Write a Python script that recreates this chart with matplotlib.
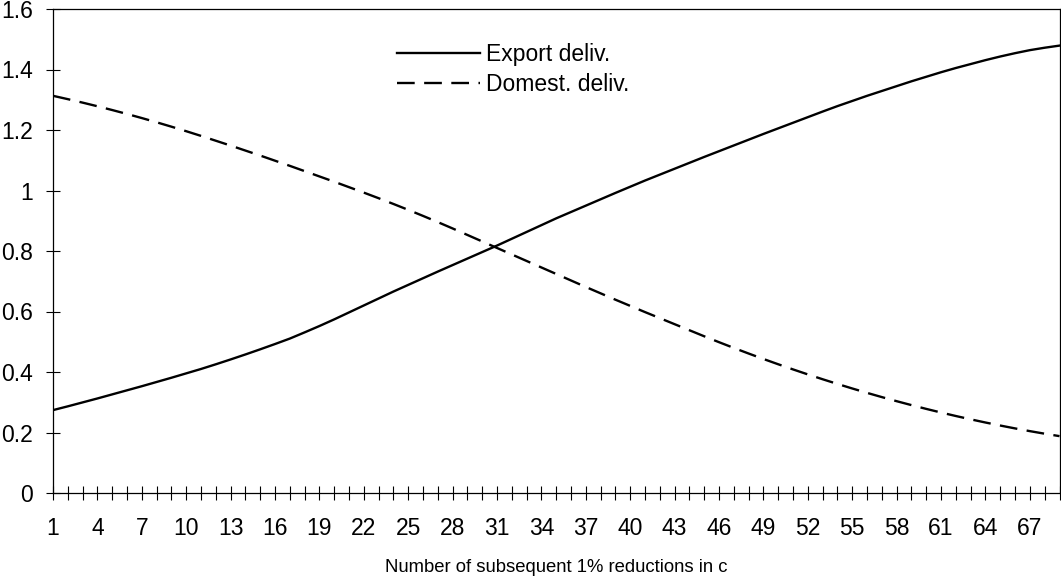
import matplotlib
matplotlib.use("Agg")
import matplotlib.pyplot as plt
from matplotlib.ticker import FixedLocator, FuncFormatter

plt.rcParams['font.family'] = ['Liberation Sans', 'DejaVu Sans']

reductions = list(range(1, 70))

export_deliv = [
    0.274, 0.2865, 0.2995, 0.3125, 0.326, 0.3395, 0.353, 0.367, 0.381, 0.3955,
    0.410, 0.4255, 0.4415, 0.458, 0.475, 0.4925, 0.5105, 0.531, 0.552, 0.574,
    0.597, 0.620, 0.643, 0.666, 0.688, 0.710, 0.732, 0.7535, 0.775, 0.7965,
    0.818, 0.8405, 0.863, 0.8855, 0.908, 0.929, 0.950, 0.971, 0.992, 1.0125,
    1.033, 1.0525, 1.072, 1.0915, 1.111, 1.130, 1.149, 1.168, 1.187, 1.2055,
    1.224, 1.2425, 1.261, 1.279, 1.296, 1.313, 1.329, 1.345, 1.361, 1.376,
    1.391, 1.405, 1.418, 1.431, 1.443, 1.454, 1.464, 1.472, 1.479,
]

domest_deliv = [
    1.313, 1.302, 1.2905, 1.2785, 1.266, 1.253, 1.2395, 1.2255, 1.211, 1.196,
    1.1805, 1.1645, 1.1485, 1.132, 1.1155, 1.0985, 1.0815, 1.064, 1.0465, 1.029,
    1.011, 0.993, 0.9745, 0.9555, 0.936, 0.916, 0.8955, 0.8745, 0.853, 0.8315,
    0.810, 0.7885, 0.767, 0.7455, 0.724, 0.7025, 0.681, 0.660, 0.639, 0.6185,
    0.598, 0.578, 0.558, 0.538, 0.518, 0.4985, 0.4795, 0.461, 0.443, 0.4255,
    0.4085, 0.392, 0.376, 0.3605, 0.3455, 0.331, 0.317, 0.3035, 0.2905, 0.278,
    0.266, 0.2545, 0.2435, 0.233, 0.223, 0.2135, 0.2045, 0.196, 0.188,
]

xtick_labels = list(range(1, 68, 3))
ytick_values = [0, 0.2, 0.4, 0.6, 0.8, 1.0, 1.2, 1.4, 1.6]

W, H = 1061, 582
fig = plt.figure(figsize=(W / 100, H / 100), dpi=100)
ax = fig.add_axes([53 / W, 1 - 493 / H, (1059.5 - 53) / W, (493 - 9) / H])

ax.plot(reductions, export_deliv, color='black', lw=1.7, label='Export deliv.')
ax.plot(reductions, domest_deliv, color='black', lw=1.7, dashes=(7.5, 4),
        label='Domest. deliv.')

ax.set_xlim(reductions[0], reductions[-1])
ax.set_ylim(0, 1.6)

ax.xaxis.set_major_locator(FixedLocator(xtick_labels))
ax.xaxis.set_minor_locator(FixedLocator(reductions))
ax.yaxis.set_major_locator(FixedLocator(ytick_values))
ax.yaxis.set_major_formatter(FuncFormatter(lambda v, p: '%g' % v))

ax.tick_params(axis='both', which='both', direction='inout', length=10.5,
               width=0.8, color='black', labelsize=16.5)
ax.tick_params(axis='x', which='major', pad=12)
ax.tick_params(axis='y', which='major', pad=9)
for s in ax.spines.values():
    s.set_linewidth(0.9)
    s.set_color('black')

ax.set_xlabel('Number of subsequent 1% reductions in c', fontsize=13.3, labelpad=13.5)

leg = ax.legend(loc='upper left', bbox_to_anchor=(344 / 1006.5, 1.0 - 34 / 484),
                frameon=False, fontsize=16.5, handlelength=3.6, handletextpad=0.28,
                labelspacing=0.3, borderaxespad=0, borderpad=0)

fig.savefig('out.png', dpi=100)
